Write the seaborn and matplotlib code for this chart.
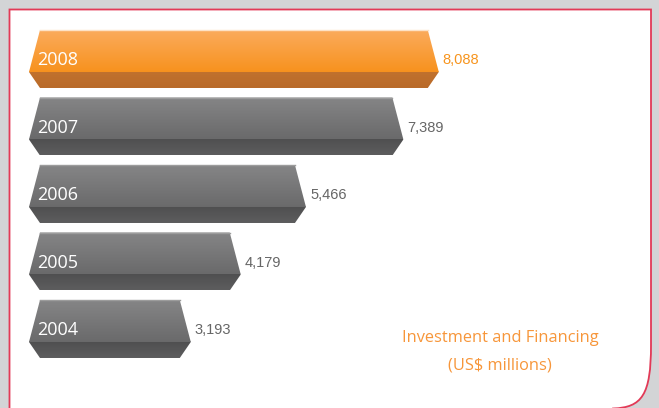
import numpy as np
import pandas as pd
import matplotlib.pyplot as plt
import seaborn as sns
from matplotlib.path import Path
from matplotlib.patches import PathPatch, Polygon
from matplotlib.colors import LinearSegmentedColormap

# ---- data ----
years = ["2008", "2007", "2006", "2005", "2004"]
values = [8088, 7389, 5466, 4179, 3193]
value_labels = ["8,088", "7,389", "5,466", "4,179", "3,193"]
caption = "Investment and Financing\n(US$ millions)"

df = pd.DataFrame({"year": years, "value": values})

W, H = 659, 408
fig = plt.figure(figsize=(W / 100, H / 100), dpi=100)
fig.patch.set_facecolor("#d3d4d6")


def fx(px):
    return px / W


def fy(py):
    return 1 - py / H


# ---- white panel with red border, rounded bottom-right ----
pts = [(9.5, 430), (9.5, 9.5), (651, 9.5), (651, 345),
       (651, 395), (642, 407.5), (613, 408.5), (613, 430), (9.5, 430)]
codes = [Path.MOVETO, Path.LINETO, Path.LINETO, Path.LINETO,
         Path.CURVE4, Path.CURVE4, Path.CURVE4, Path.LINETO, Path.LINETO]
panel = PathPatch(Path([(fx(x), fy(y)) for x, y in pts], codes),
                  transform=fig.transFigure, facecolor="white",
                  edgecolor="#e23a57", lw=1.3, zorder=-5)
fig.add_artist(panel)

# ---- bars ----
ax = fig.add_axes([fx(29), fy(375), 608 / W, 357.75 / H])
ax.set_zorder(2)
ax.patch.set_alpha(0)
sns.barplot(data=df, x="value", y="year", orient="h", width=0.622,
            color="#777777", ax=ax)

px_per_unit = 0.0507
slant = 11 / px_per_unit
bevel = 16 / 67.5


def grad_fill(ax, xy, c_top, c_bot, z):
    poly = Polygon(xy, closed=True, facecolor="none", edgecolor="none")
    ax.add_patch(poly)
    xs = [p[0] for p in xy]
    ys = [p[1] for p in xy]
    cmap = LinearSegmentedColormap.from_list("g", [c_top, c_bot])
    grad = np.linspace(0, 1, 64).reshape(-1, 1)
    im = ax.imshow(grad, cmap=cmap, aspect="auto", origin="upper",
                   extent=[min(xs), max(xs), max(ys), min(ys)], zorder=z)
    im.set_clip_path(poly)


for i, p in enumerate(ax.patches[:len(values)]):
    p.set_visible(False)
    x0 = p.get_x()
    x1 = x0 + p.get_width()
    top = p.get_y()
    mid = top + p.get_height()
    bot = mid + bevel
    if i == 0:
        face = ("#fbab5c", "#f7921e")
        side = ("#c2732f", "#b96a29")
        edge = "#fde2c6"
        vcol = "#f7941d"
    else:
        face = ("#858586", "#6a6a6b")
        side = ("#4d4d4e", "#5d5d5e")
        edge = "#9c9c9c"
        vcol = "#666666"
    # bevel starts a little under the face so no seam shows
    ov = 0.03
    grad_fill(ax, [(x0 + 30, mid - ov), (x1 - 30, mid - ov), (x1, mid),
                   (x1 - slant, bot), (x0 + slant, bot), (x0, mid)], *side, z=2)
    grad_fill(ax, [(x0 + slant, top), (x1 - slant, top), (x1, mid), (x0, mid)], *face, z=2.5)
    ax.plot([x0 + slant, x1 - slant], [top, top], color=edge, lw=1, zorder=3)
    ax.text(x0 + 160, i + 0.14, years[i], color="white", fontsize=13,
            family="Open Sans", va="center", ha="left", zorder=4)
    ax.text(x1 + 80, i + 0.14, value_labels[i], color=vcol, fontsize=10.5,
            family="Liberation Sans", va="center", ha="left", zorder=4)

ax.set_xlim(0, 12000)
ax.set_ylim(4.8, -0.5)
ax.axis("off")

fig.text(fx(500), fy(352), caption, ha="center", va="center",
         color="#f7963a", fontsize=11.8, family="Open Sans", linespacing=1.95)

plt.savefig("out.png", dpi=100)
